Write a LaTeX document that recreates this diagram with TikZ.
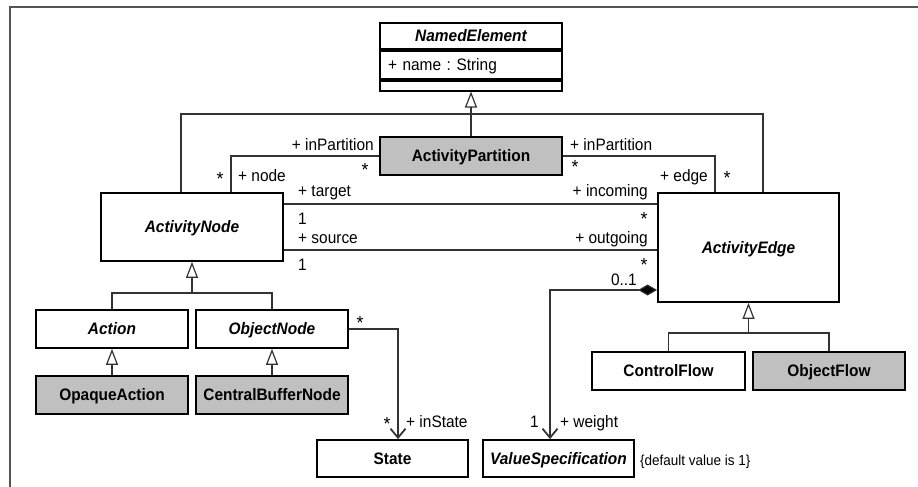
\documentclass[tikz,border=0pt]{standalone}
\usepackage{fontspec}
\setmainfont{Liberation Sans}[FakeStretch=0.93]
\usetikzlibrary{arrows.meta}
\definecolor{boxgray}{HTML}{C0C0C0}
\definecolor{wire}{HTML}{333333}
\definecolor{framegray}{HTML}{555555}
\newcommand\umlfont{\fontsize{16.6}{19}\selectfont}
\newcommand\starfont{\fontsize{19}{21}\selectfont}
\newcommand\notefont{\fontsize{14.5}{17}\selectfont}
\frenchspacing
\begin{document}
\begin{tikzpicture}[x=1pt,y=-1pt,
  cls/.style={draw=black, line width=1.8pt, fill=white, inner sep=0pt,
              text height=11pt, text depth=0pt},
  abs/.style={cls, font=\umlfont\bfseries\itshape},
  conc/.style={cls, font=\umlfont\bfseries},
  shaded/.style={conc, fill=boxgray},
  compart/.style={draw=black, line width=1.8pt, fill=white, inner ysep=0pt,
              minimum width=182pt},
  wirel/.style={draw=wire, line width=1.2pt},
  gen/.style={wirel, -{Triangle[open, length=16pt, width=12pt]}},
  nav/.style={wirel, -{Straight Barb[length=9pt, width=15pt, line width=1.8pt]}},
  comp/.style={wirel, {Diamond[length=19pt, width=11pt, fill=black]}-{Straight Barb[length=9pt, width=15pt, line width=1.8pt]}},
  lab/.style={font=\umlfont, inner sep=0pt},
  star/.style={font=\starfont, inner sep=0pt, anchor=base, yshift=-1.4pt},
]
\useasboundingbox (0,0) rectangle (918,487);

% page frame
\draw[draw=framegray, line width=2pt] (10,487) -- (10,7.5) -- (918,7.5);

% NamedElement with its three compartments
\node[abs, minimum width=182pt, minimum height=26pt] (ne) at (471,36) {NamedElement};
\node[compart, anchor=north, minimum height=28pt, text width=166pt, inner xsep=8pt,
      align=left, font=\umlfont, text height=11pt, text depth=0pt] (nea) at (ne.south) {+ name : String};
\node[compart, anchor=north, minimum height=10pt, inner xsep=0pt] (neo) at (nea.south) {};

% classes
\node[shaded, minimum width=182pt, minimum height=38pt] (ap) at (471,156) {ActivityPartition};
\node[abs, minimum width=182pt, minimum height=68pt] (an) at (192,227) {ActivityNode};
\node[abs, minimum width=181pt, minimum height=109pt] (ae) at (748.5,247.5) {ActivityEdge};
\node[abs, minimum width=152pt, minimum height=38pt] (act) at (112,329) {Action};
\node[abs, minimum width=152pt, minimum height=38pt] (on) at (272,329) {ObjectNode};
\node[shaded, minimum width=152pt, minimum height=38pt] (oa) at (112,395) {OpaqueAction};
\node[shaded, minimum width=152pt, minimum height=38pt] (cbn) at (272,395) {CentralBufferNode};
\node[conc, minimum width=153pt, minimum height=38pt] (cf) at (668.5,371) {ControlFlow};
\node[shaded, minimum width=152pt, minimum height=38pt] (of) at (829,371) {ObjectFlow};
\node[conc, minimum width=151pt, minimum height=37pt] (st) at (392.5,458.5) {State};
\node[abs, minimum width=151pt, minimum height=37pt] (vs) at (558.5,458.5) {ValueSpecification};

% helper coordinates for connector routing
\coordinate (gj) at (471,114);
\coordinate (gl) at (181,0);
\coordinate (gr) at (763,0);
\coordinate (nx) at (231,0);
\coordinate (ex) at (715,0);
\coordinate (ty) at (0,204);
\coordinate (sy) at (0,250);
\coordinate (cy) at (0,290);
\coordinate (cx) at (550,0);
\coordinate (sx) at (398,0);
\coordinate (gn) at (192,293);
\coordinate (ge) at (748.5,333);

% generalizations
\draw[gen] (ap.north) -- (ne.south |- neo.south);
\draw[wirel] (an.north -| gl) |- (gj) -| (ae.north -| gr);
\draw[wirel] (act.north) |- (gn) -| (on.north);
\draw[gen] (gn) -- (an.south);
\draw[gen] (oa.north) -- (act.south);
\draw[gen] (cbn.north) -- (on.south);
\draw[wirel] (cf.north) |- (ge) -| (of.north);
\draw[gen] (ge) -- (ae.south);

% associations
\draw[wirel] (an.north -| nx) |- (ap.west);
\draw[wirel] (ae.north -| ex) |- (ap.east);
\draw[wirel] (an.east |- ty) -- (ae.west |- ty);
\draw[wirel] (an.east |- sy) -- (ae.west |- sy);
\draw[comp] (ae.west |- cy) -| (vs.north -| cx);
\draw[nav] (on.east) -| (st.north -| sx);

% association end labels
\node[lab, anchor=base east] (l1) at (374,150.5) {+ inPartition};
\node[star] (s1) at (365,175.5) {*};
\node[lab, anchor=base west] (l2) at (238,181) {+ node};
\node[star] (s2) at (220,184) {*};
\node[lab, anchor=base west] (l3) at (570,150.5) {+ inPartition};
\node[star] (s3) at (575,172.5) {*};
\node[lab, anchor=base east] (l4) at (708,181) {+ edge};
\node[star] (s4) at (727,183.5) {*};
\node[lab, anchor=base west] (l5) at (298,196) {+ target};
\node[lab, anchor=base west] (l6) at (298,224) {1};
\node[lab, anchor=base west] (l7) at (298,243) {+ source};
\node[lab, anchor=base west] (l8) at (298,270) {1};
\node[lab, anchor=base east] (l9) at (648,196) {+ incoming};
\node[star] (s5) at (644,224.5) {*};
\node[lab, anchor=base east] (l10) at (648,243) {+ outgoing};
\node[star] (s6) at (644,270.5) {*};
\node[lab, anchor=base east] (l11) at (637,285) {0..1};
\node[lab, anchor=base east] (l12) at (539,427) {1};
\node[lab, anchor=base west] (l13) at (560,427) {+ weight};
\node[star] (s7) at (360,328.5) {*};
\node[star] (s8) at (387,429.5) {*};
\node[lab, anchor=base west] (l14) at (406,427) {+ inState};
\node[font=\notefont, inner sep=0pt, anchor=base west] (note) at (640,465) {\{default value is 1\}};
\end{tikzpicture}
\end{document}
